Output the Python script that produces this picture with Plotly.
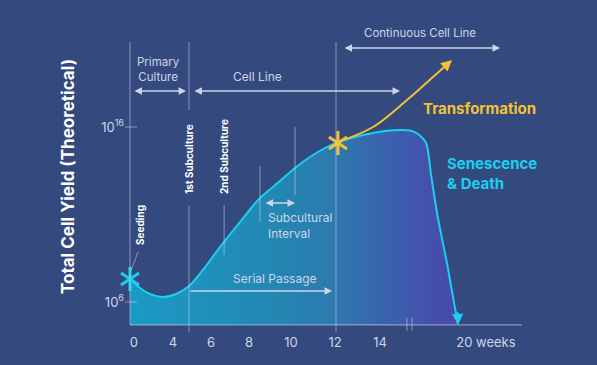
import plotly.graph_objects as go

# ---------------- data (schematic x position units, y = log10 of cell yield) ----------------
growth_x = [0.00, 0.51, 1.02, 1.68, 2.35, 3.01, 3.72, 4.59, 5.61, 6.63, 7.65, 8.42, 9.34,
            10.51, 11.89, 13.01, 13.78, 14.29, 14.69, 15.10, 15.36, 15.71, 16.17, 16.48, 16.73]
growth_log = [7.37, 6.80, 6.46, 6.29, 6.46, 6.91, 7.83, 9.14, 10.57, 11.94, 12.91, 13.66, 14.40,
              15.09, 15.54, 15.77, 15.83, 15.80, 15.60, 15.10, 13.26, 10.80, 8.23, 6.29, 4.72]

transform_x = [10.61, 12.40, 14.13, 15.46, 16.20]
transform_log = [15.14, 16.00, 17.54, 18.86, 19.60]

axis_floor = 4.69
axis_top = 20.86

tick_labels = ["0", "4", "6", "8", "10", "12", "14", "20 weeks"]
tick_pos = [0.20, 2.19, 4.13, 6.07, 8.21, 10.46, 12.76, 18.16]
ytick_vals = [6, 16]
ytick_text = ["10<sup>6</sup>", "10<sup>16</sup>"]

BG = "#344a7e"
GRAY = "rgba(205,214,235,0.55)"
TXT = "#cdd5e8"
CYAN = "#1ad0ee"
YELLOW = "#f3c233"
FONT = "Inter"

fig = go.Figure()

# baseline for fill
fig.add_trace(go.Scatter(x=[growth_x[0], growth_x[-1]], y=[axis_floor, axis_floor],
                         mode="lines", line=dict(width=0), hoverinfo="skip", showlegend=False))
# growth curve with gradient fill
fig.add_trace(go.Scatter(
    x=growth_x, y=growth_log, mode="lines", line=dict(color=CYAN, width=2, shape="spline", smoothing=0.8),
    fill="tonexty",
    fillgradient=dict(type="horizontal",
                      colorscale=[[0, "#1a9ac4"], [0.45, "#2387b2"], [0.62, "#2e79ae"],
                                  [0.8, "#3c5fae"], [1, "#4a47aa"]]),
    showlegend=False, hoverinfo="skip"))
# transformation curve
fig.add_trace(go.Scatter(x=transform_x, y=transform_log, mode="lines",
                         line=dict(color=YELLOW, width=2, shape="spline"),
                         showlegend=False, hoverinfo="skip"))

# asterisks
for (sx, sy, col) in [(growth_x[0], 7.31, CYAN), (10.61, 15.09, YELLOW)]:
    for sym in ["y-up-open", "y-down-open"]:
        fig.add_trace(go.Scatter(x=[sx], y=[sy], mode="markers", cliponaxis=False,
                                 marker=dict(symbol=sym, size=15, color=col,
                                             line=dict(color=col, width=3)),
                                 showlegend=False, hoverinfo="skip"))

shapes = []
def vline(x, y0, y1, color=GRAY, w=1):
    shapes.append(dict(type="line", xref="x", yref="y", x0=x, x1=x, y0=y0, y1=y1,
                       line=dict(color=color, width=w)))

# axis lines
vline(0, axis_top, axis_floor)
shapes.append(dict(type="line", xref="x", yref="y", x0=0, x1=20.0, y0=axis_floor, y1=axis_floor,
                   line=dict(color=GRAY, width=1.2)))
# y tick marks
for yv in ytick_vals:
    shapes.append(dict(type="line", xref="x", yref="y", x0=-0.255, x1=0.36, y0=yv, y1=yv,
                       line=dict(color=GRAY, width=1)))
# 1st subculture line (two segments)
vline(3.01, axis_top, 16.97)
vline(3.01, 11.49, 4.29)
# 12 week line
vline(10.51, axis_top, 4.29)
# small subculture markers
vline(4.80, 11.54, 8.69)
vline(6.63, 13.77, 10.57)
vline(8.42, 16.00, 12.11)
# break marks
vline(14.13, 5.09, 4.34)
vline(14.39, 5.09, 4.34)
# seeding leader
shapes.append(dict(type="line", xref="x", yref="y", x0=0.41, x1=0.05, y0=8.86, y1=7.80,
                   line=dict(color=GRAY, width=1)))

ann = []
def arrow(x0, x1, y, both=True, color="#cdd5e8", w=1.5):
    ann.append(dict(x=x1, y=y, ax=x0, ay=y, xref="x", yref="y", axref="x", ayref="y",
                    text="", showarrow=True, arrowhead=2, arrowsize=1, arrowwidth=w,
                    arrowcolor=color, arrowside="end+start" if both else "end"))

arrow(0.15, 2.86, 18.06)
arrow(3.21, 13.78, 18.06)
arrow(10.87, 18.88, 20.51)
arrow(3.01, 10.31, 6.63, both=False)
arrow(6.84, 8.42, 11.66)
# arrowheads at curve ends
ann.append(dict(x=16.43, y=19.83, ax=16.05, ay=19.45, xref="x", yref="y", axref="x", ayref="y",
                text="", showarrow=True, arrowhead=2, arrowsize=1.1, arrowwidth=2, arrowcolor=YELLOW))
ann.append(dict(x=16.74, y=axis_floor, ax=16.71, ay=5.5, xref="x", yref="y", axref="x", ayref="y",
                text="", showarrow=True, arrowhead=2, arrowsize=1.1, arrowwidth=2, arrowcolor=CYAN))

def label(x, y, t, size=12, color=TXT, bold=False, angle=0, xanchor="center", align="center"):
    ann.append(dict(x=x, y=y, xref="x", yref="y", text=("<b>%s</b>" % t) if bold else t,
                    showarrow=False, textangle=angle, xanchor=xanchor, yanchor="middle", align=align,
                    font=dict(family=FONT, size=size, color=color)))

label(1.43, 19.29, "Primary<br>Culture", size=11.5)
label(6.53, 18.86, "Cell Line", size=12)
label(14.80, 21.37, "Continuous Cell Line", size=11.5)
label(7.40, 7.37, "Serial Passage", size=12)
label(6.94, 10.37, "Subcultural<br>Interval", size=12, xanchor="left", align="left")
label(17.81, 17.03, "Transformation", size=15, color=YELLOW, bold=True)
label(16.07, 13.34, "Senescence<br>& Death", size=15, color=CYAN, bold=True, xanchor="left", align="left")
label(0.51, 10.40, "Seeding", size=10, color="white", bold=True, angle=-90)
label(3.01, 14.17, "1st Subculture", size=10, color="white", bold=True, angle=-90)
label(4.80, 14.29, "2nd Subculture", size=10, color="white", bold=True, angle=-90)

fig.update_layout(
    width=597, height=365, margin=dict(l=125, r=57, t=20, b=32, autoexpand=False),
    paper_bgcolor=BG, plot_bgcolor=BG, shapes=shapes, annotations=ann,
    font=dict(family=FONT, color=TXT),
    xaxis=dict(range=[-0.255, 20.918], showgrid=False, zeroline=False, showline=False,
               automargin=False,
               tickmode="array", tickvals=tick_pos, ticktext=tick_labels, ticks="",
               tickfont=dict(size=13, color=TXT, family=FONT)),
    yaxis=dict(range=[4.229, 22.114], showgrid=False, zeroline=False, showline=False,
               automargin=False,
               tickmode="array", tickvals=ytick_vals, ticktext=ytick_text, ticks="",
               tickfont=dict(size=13, color=TXT, family=FONT),
               title=dict(text="<b>Total Cell Yield (Theoretical)</b>", standoff=22,
                          font=dict(size=17, color="white", family=FONT))),
)

fig.write_html("out.html", config={"displayModeBar": False},
               post_script="document.body.style.margin='0';document.body.style.padding='0';"
                           "document.body.style.background='%s';" % BG)
